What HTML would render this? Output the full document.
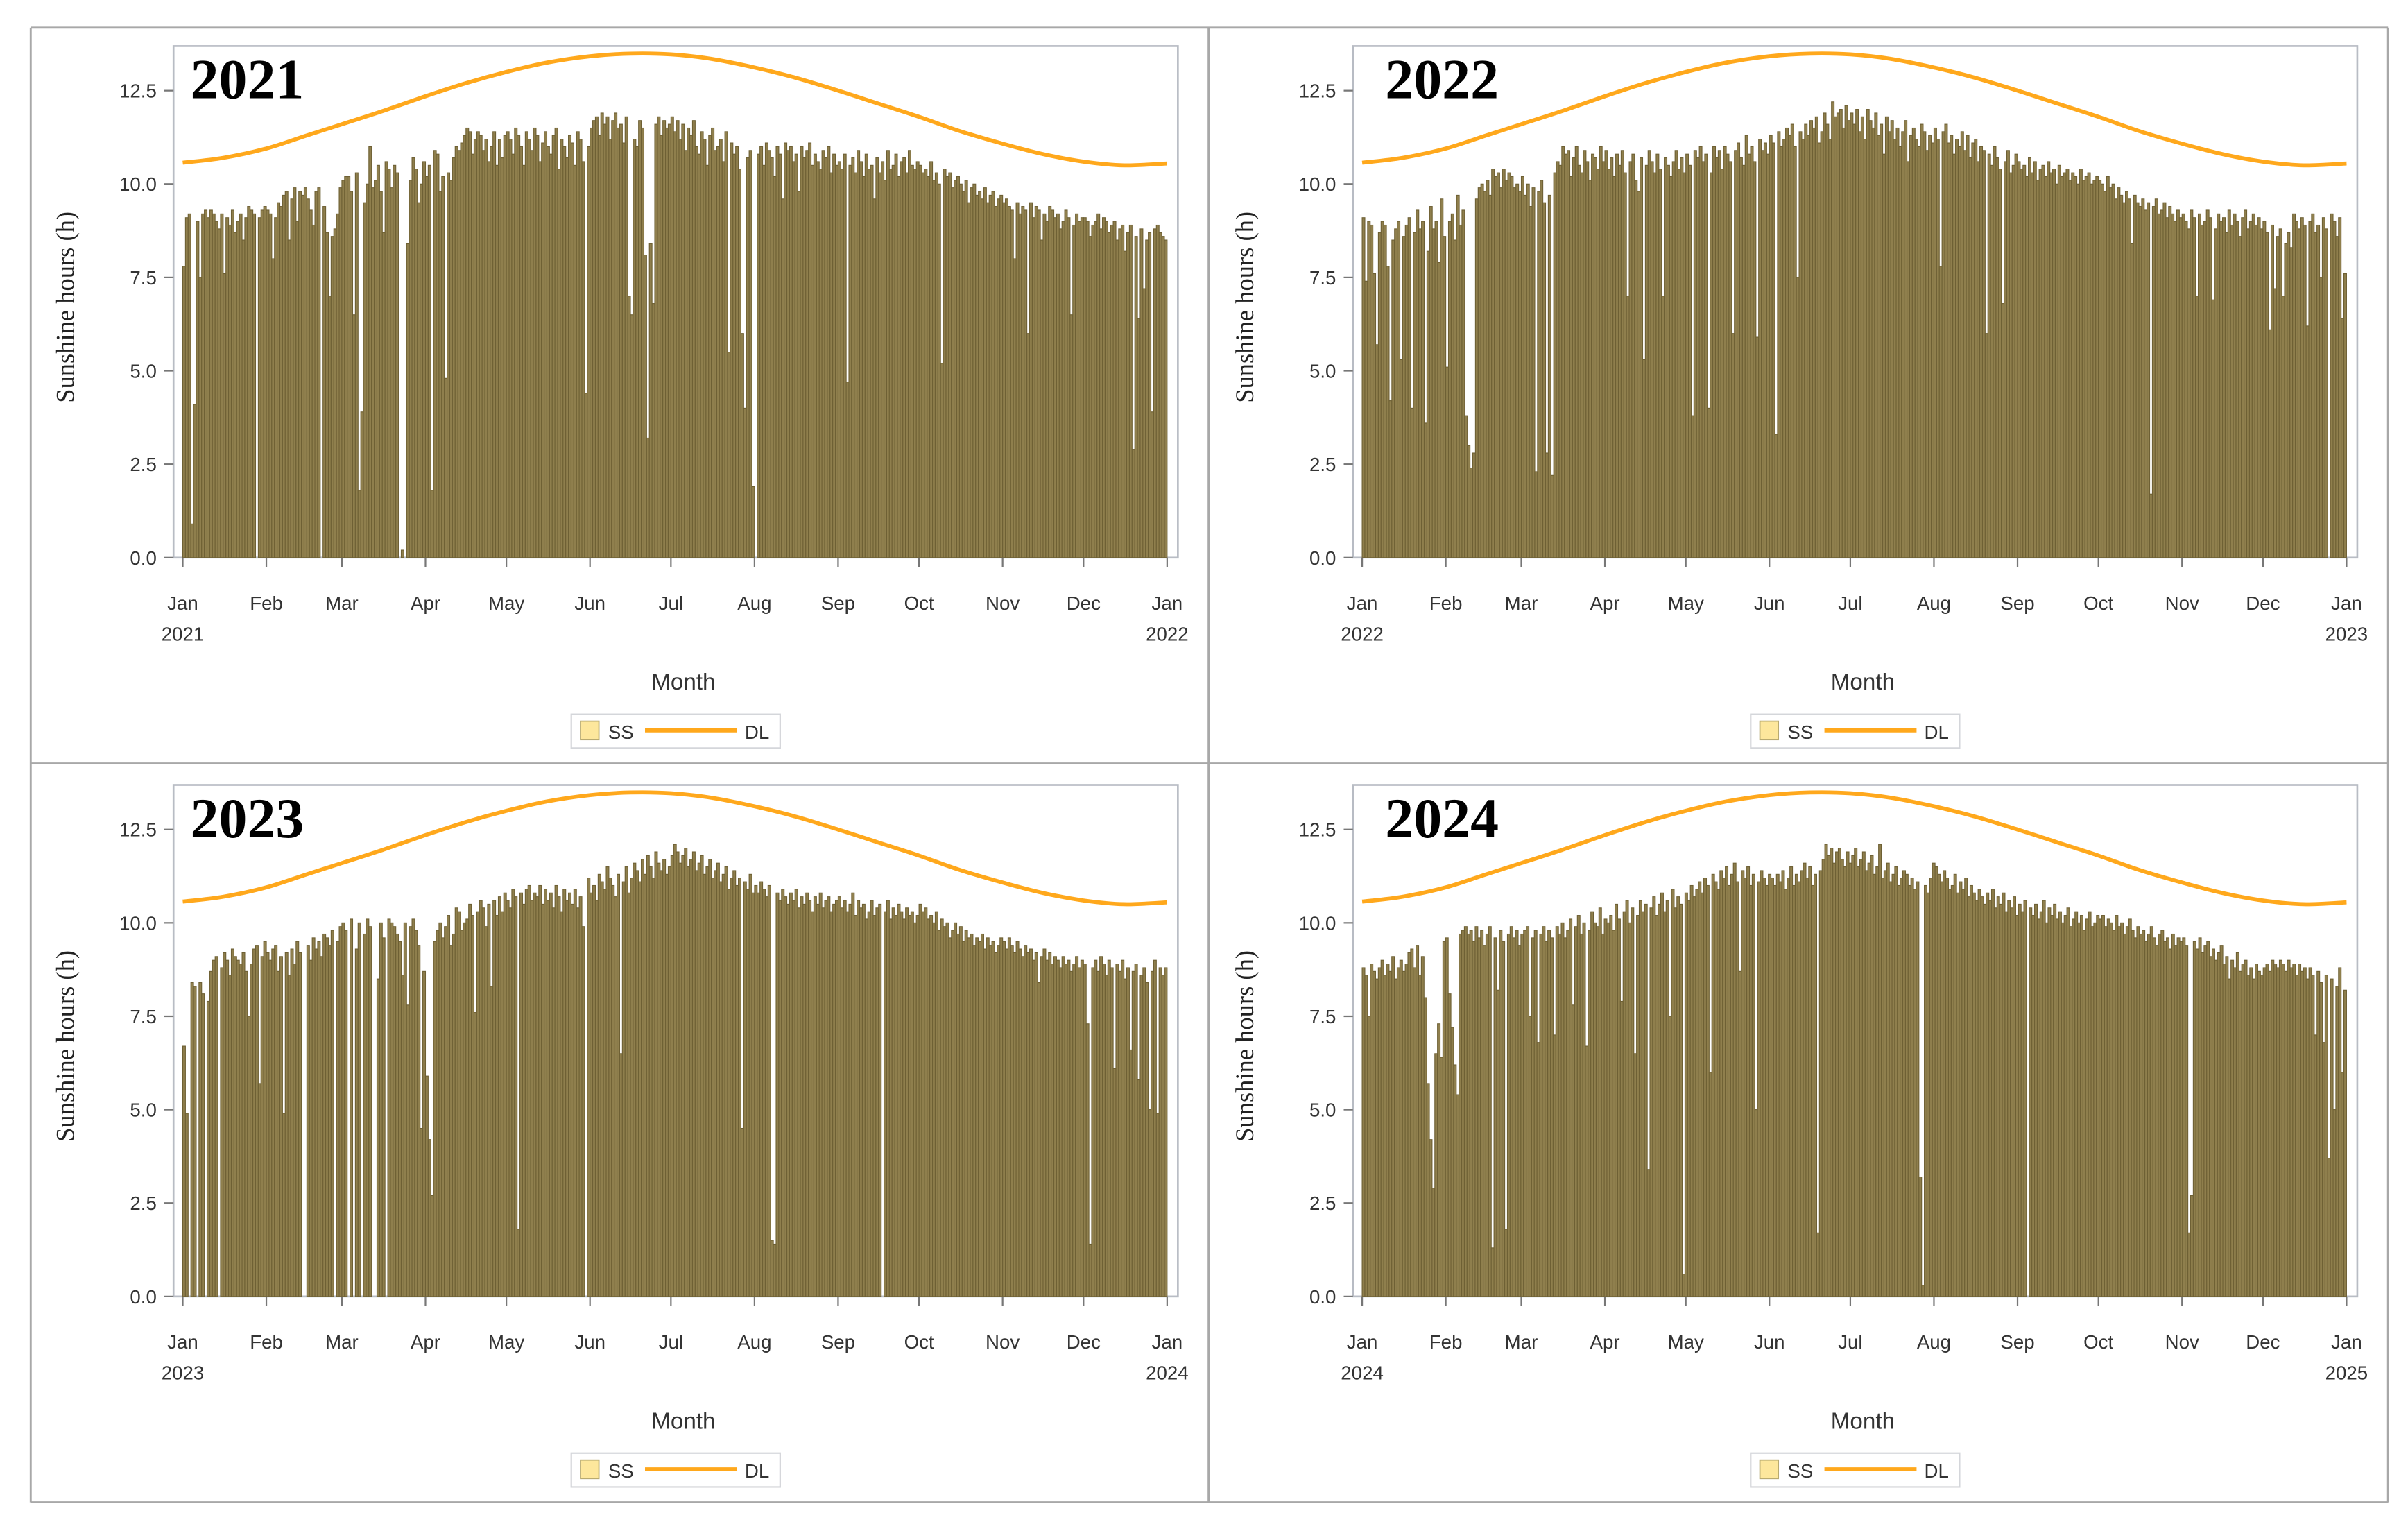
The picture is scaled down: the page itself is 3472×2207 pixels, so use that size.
<!DOCTYPE html>
<html><head><meta charset="utf-8"><style>
html,body{margin:0;padding:0;background:#fff;}
svg{display:block;}
text{font-family:"Liberation Sans",sans-serif;}
</style></head><body>
<svg id="chart" width="3472" height="2207" viewBox="0 0 1568 996.7" preserveAspectRatio="none" xmlns="http://www.w3.org/2000/svg"></svg>
<script>
const years = [2021, 2022, 2023, 2024];
const monthLabels = ["Jan","Feb","Mar","Apr","May","Jun","Jul","Aug","Sep","Oct","Nov","Dec","Jan"];
const yTicks = [0, 2.5, 5, 7.5, 10, 12.5];
const yTickLabels = ["0.0","2.5","5.0","7.5","10.0","12.5"];
const dlDays = [0,15,31,46,59,74,90,105,120,135,151,166,181,196,212,227,243,258,273,288,304,319,334,349,365];
const dlHours = [10.57,10.7,10.95,11.3,11.6,11.95,12.35,12.7,13.0,13.25,13.42,13.49,13.47,13.35,13.12,12.85,12.5,12.15,11.8,11.42,11.08,10.8,10.6,10.5,10.55];
const ss2021 = "7.8 9.1 9.2 0.9 4.1 9.0 7.5 9.2 9.3 9.1 9.3 9.2 9.0 8.8 9.2 7.6 9.1 8.9 9.3 8.7 9.0 9.2 8.5 9.1 9.4 9.3 9.2 0.0 9.1 9.3 9.4 9.3 9.2 8.0 9.1 9.5 9.4 9.7 9.8 8.5 9.6 9.9 9.0 9.8 9.7 9.9 9.6 9.3 8.9 9.8 9.9 0.0 9.4 8.7 7.0 8.6 8.8 9.2 9.9 10.1 10.2 10.2 9.8 6.5 10.3 1.8 3.9 9.5 10.0 11.0 9.9 10.1 10.5 9.8 8.7 10.6 10.4 9.9 10.5 10.3 0.0 0.2 0.0 8.4 10.1 10.7 10.4 9.5 10.0 10.6 10.2 10.5 1.8 10.9 10.8 9.8 10.2 4.8 10.3 10.1 10.7 11.0 10.9 11.1 11.3 11.5 11.4 10.8 11.2 11.4 11.3 10.9 11.2 10.6 11.0 11.4 10.5 11.2 10.7 11.3 11.4 11.2 10.8 11.5 11.3 11.0 10.5 11.4 11.2 10.9 11.5 11.3 10.6 11.1 11.4 11.0 10.8 11.3 11.5 10.4 11.2 11.0 10.7 11.3 11.1 10.5 11.4 11.2 10.6 4.4 11.0 11.5 11.7 11.8 11.3 11.9 11.6 11.8 11.2 11.7 11.9 11.5 11.6 11.1 11.8 7.0 6.5 11.2 11.0 11.7 11.5 8.1 3.2 8.4 6.8 11.6 11.8 11.3 11.7 11.5 11.6 11.8 11.4 11.7 11.2 11.6 10.9 11.5 11.3 11.7 11.0 10.8 11.4 11.2 10.5 11.3 11.5 10.9 11.0 11.2 10.6 11.4 5.5 11.1 10.8 11.0 10.4 6.0 4.0 10.7 10.9 1.9 0.0 10.8 11.0 10.5 11.1 10.9 10.7 10.2 11.0 10.8 9.6 11.1 10.9 11.0 10.6 10.8 9.8 11.0 10.7 10.9 11.1 10.5 10.8 10.6 10.4 10.9 10.7 11.0 10.3 10.8 10.5 10.6 10.4 10.8 4.7 10.5 10.7 10.3 10.9 10.6 10.2 10.8 10.4 10.5 9.6 10.7 10.3 10.6 10.1 10.9 10.4 10.5 10.8 10.2 10.6 10.7 10.3 10.9 10.5 10.4 10.6 10.5 10.3 10.4 10.2 10.6 10.1 10.3 10.0 5.2 10.4 10.2 10.3 9.9 10.1 10.2 10.0 9.8 10.1 9.5 9.9 10.0 9.7 9.8 9.6 9.9 9.5 9.7 9.8 9.4 9.6 9.7 9.5 9.6 9.4 9.3 8.0 9.5 9.2 9.4 9.3 6.0 9.5 9.1 9.4 9.3 8.5 9.2 9.0 9.4 9.3 9.1 9.2 8.8 9.0 9.3 9.1 6.5 8.9 9.2 9.0 9.1 9.1 9.0 8.6 8.9 9.0 9.2 8.8 9.1 9.0 8.7 8.9 9.0 8.5 8.8 8.9 8.2 8.7 8.9 2.9 8.6 6.4 8.8 7.2 8.5 8.7 3.9 8.8 8.9 8.7 8.6 8.5".split(" ").map(Number);
const ss2022 = "9.1 7.4 9.0 8.9 7.6 5.7 8.7 9.0 8.9 7.8 4.2 8.5 8.8 9.0 5.3 8.6 8.9 9.1 4.0 8.7 9.3 8.8 9.0 3.6 8.2 9.4 8.8 9.0 7.9 9.6 8.6 5.1 9.0 9.2 8.5 9.7 8.9 9.3 3.8 3.0 2.4 2.8 9.6 9.9 10.0 9.8 10.1 9.7 10.4 10.2 10.3 9.9 10.4 10.1 10.3 10.2 9.9 10.0 9.8 10.2 9.7 10.0 9.4 9.9 2.3 9.8 10.1 9.5 2.8 9.7 2.2 10.3 10.6 10.5 11.0 10.8 10.9 10.2 10.7 11.0 10.5 10.3 10.9 10.6 10.1 10.8 10.7 10.4 11.0 10.6 10.9 10.4 10.7 10.2 10.8 10.5 10.9 10.3 7.0 10.6 10.8 10.1 9.8 10.7 5.3 10.5 10.9 10.6 10.3 10.8 10.4 7.0 10.7 10.5 10.2 10.6 10.9 10.4 10.7 10.3 10.8 10.5 3.8 10.9 10.7 11.0 10.6 10.8 4.0 10.3 11.0 10.7 10.9 10.4 11.0 10.8 10.6 6.0 10.9 11.1 10.7 10.5 11.3 10.8 11.0 10.6 5.9 11.2 10.9 11.1 10.8 11.3 11.1 3.3 11.4 11.0 11.2 11.5 11.3 11.6 11.0 7.5 11.4 11.2 11.6 11.3 11.7 11.5 11.8 11.1 11.4 11.9 11.6 11.2 12.2 11.8 11.9 12.0 11.5 12.1 11.7 11.9 11.6 12.0 11.4 11.8 11.2 12.0 11.7 11.5 11.9 11.3 11.6 10.8 11.8 11.4 11.7 11.2 11.5 11.0 11.4 11.7 10.6 11.3 11.5 11.2 11.0 11.6 11.4 10.9 11.3 11.1 11.5 11.2 7.8 11.4 11.6 11.1 11.3 10.8 11.2 11.0 11.4 10.9 11.3 10.7 11.1 11.2 10.6 11.0 10.9 6.0 10.8 10.5 11.0 10.7 10.4 6.8 10.6 10.9 10.3 10.5 10.8 10.6 10.4 10.5 10.2 10.7 10.3 10.6 10.1 10.4 10.5 10.2 10.6 10.3 10.4 10.0 10.5 10.2 10.3 10.4 10.1 10.3 10.2 10.0 10.4 10.1 10.2 10.3 10.0 10.1 10.2 10.1 10.0 9.8 10.2 9.9 10.0 9.6 9.9 9.7 9.5 9.8 9.6 8.4 9.7 9.5 9.4 9.6 9.3 9.5 1.7 9.4 9.6 9.2 9.3 9.5 9.1 9.4 9.2 9.0 9.3 9.1 9.2 9.0 8.8 9.3 9.1 7.0 9.2 8.9 9.0 9.3 9.1 6.9 8.8 9.2 9.0 9.1 8.7 9.3 8.9 9.2 9.0 8.6 9.1 9.3 8.8 9.0 9.2 8.9 9.1 8.8 9.0 8.7 6.1 8.9 7.2 8.6 8.8 7.0 8.4 8.7 8.3 9.2 9.0 8.8 9.1 8.9 6.2 9.0 9.2 8.7 8.9 7.5 9.1 8.8 0.0 9.2 9.0 8.6 9.1 6.4 7.6".split(" ").map(Number);
const ss2023 = "6.7 4.9 0.0 8.4 8.3 0.0 8.4 8.1 0.0 7.9 8.7 9.0 9.1 0.0 8.8 9.2 9.0 8.6 9.3 9.1 9.0 8.9 9.2 8.7 7.5 8.9 9.3 9.4 5.7 9.1 9.5 9.2 9.0 9.3 9.4 8.7 9.1 4.9 9.2 8.6 9.3 8.9 9.5 9.2 0.0 0.0 9.4 9.0 9.6 9.3 9.5 9.1 9.7 9.6 9.4 9.8 0.0 9.5 9.9 10.0 9.8 0.0 10.1 0.0 9.3 10.0 0.0 9.7 10.1 9.9 0.0 0.0 8.5 10.0 9.6 0.0 10.1 10.0 9.9 9.7 9.5 8.6 10.0 7.8 9.9 10.1 9.8 9.4 4.5 8.7 5.9 4.2 2.7 9.5 9.8 10.0 9.6 9.9 10.2 9.4 9.7 10.4 10.3 9.8 10.0 10.1 10.5 10.2 7.6 10.3 10.6 10.4 9.9 10.5 8.3 10.6 10.2 10.7 10.3 10.8 10.6 10.4 10.9 10.7 1.8 10.8 10.5 10.9 11.0 10.6 10.8 10.7 11.0 10.5 10.9 10.6 10.8 10.4 11.0 10.7 10.3 10.9 10.6 10.8 10.5 10.9 10.4 10.7 9.9 0.0 11.2 10.8 11.0 10.6 11.3 11.1 10.9 11.5 11.2 11.0 10.7 11.3 6.5 11.1 11.5 10.8 11.2 11.6 11.4 11.1 11.7 11.3 11.8 11.5 11.2 11.9 11.6 11.4 11.7 11.3 11.5 11.8 12.1 11.9 11.6 11.8 12.0 11.5 11.7 11.9 11.4 11.6 11.8 11.3 11.5 11.7 11.2 11.4 11.6 11.1 11.3 11.5 10.9 11.2 11.4 11.0 11.2 4.5 11.1 10.9 11.3 10.8 11.0 10.8 11.1 10.9 10.7 11.0 1.5 1.4 10.8 10.6 10.9 10.7 10.5 10.8 10.6 10.9 10.4 10.7 10.5 10.8 10.6 10.3 10.7 10.5 10.8 10.4 10.6 10.7 10.3 10.5 10.6 10.7 10.4 10.6 10.3 10.5 10.8 10.2 10.6 10.4 10.5 10.1 10.3 10.6 10.2 10.4 10.5 0.0 10.3 10.6 10.1 10.4 10.2 10.5 10.3 10.1 10.4 10.2 10.3 10.0 10.2 10.5 10.3 10.4 10.1 10.2 10.0 10.3 9.8 10.1 9.9 10.0 9.6 9.8 10.0 9.7 9.9 9.5 9.8 9.6 9.7 9.4 9.6 9.5 9.7 9.3 9.6 9.4 9.5 9.2 9.4 9.6 9.5 9.3 9.6 9.4 9.2 9.5 9.3 9.1 9.4 9.2 9.3 9.0 9.2 8.4 9.1 9.3 9.0 9.2 8.9 9.1 9.0 8.8 9.1 8.9 9.0 8.7 8.9 9.1 8.8 9.0 8.9 7.3 1.4 8.8 9.0 8.7 9.1 8.9 8.6 9.0 8.8 6.1 8.9 8.7 9.0 8.5 8.8 6.6 8.7 8.9 5.8 8.6 8.8 8.4 5.0 8.7 9.0 4.9 8.8 8.6 8.8".split(" ").map(Number);
const ss2024 = "8.8 8.6 7.5 8.9 8.7 8.5 8.8 9.0 8.6 8.9 8.7 9.1 8.5 8.8 9.0 8.7 8.9 9.2 9.3 8.8 9.4 8.6 9.1 8.0 5.7 4.2 2.9 6.5 7.3 6.4 9.5 9.6 8.1 7.2 6.2 5.4 9.7 9.8 9.9 9.7 9.8 9.5 9.9 9.6 9.8 9.4 9.7 9.9 1.3 9.6 8.2 9.8 9.5 1.8 9.7 9.9 9.6 9.8 9.4 9.7 9.8 9.9 7.5 9.6 9.8 6.8 9.7 9.9 9.5 9.8 9.6 7.0 9.9 9.7 10.0 9.6 9.8 10.1 7.8 9.9 10.2 9.7 10.0 6.7 9.8 10.3 10.0 9.9 10.4 9.7 10.1 10.0 10.2 9.8 10.5 10.1 7.9 10.3 10.6 10.0 10.4 6.5 10.2 10.6 10.3 10.5 3.4 10.4 10.7 10.2 10.5 10.8 10.3 10.6 7.5 10.9 10.4 10.7 10.5 0.6 10.8 10.6 11.0 10.7 10.9 11.1 10.8 11.2 11.0 6.0 11.3 11.1 10.9 11.4 11.2 11.5 11.0 11.3 11.6 11.1 8.7 11.4 11.2 11.5 11.0 11.3 5.0 11.1 11.4 11.2 11.0 11.3 11.2 11.0 11.3 11.1 11.4 10.9 11.2 11.5 11.0 11.3 11.1 11.4 11.6 11.2 11.5 11.0 11.3 1.7 11.4 11.7 12.1 11.8 12.0 11.6 11.9 12.0 11.7 11.5 11.9 11.6 11.8 12.0 11.5 11.7 11.9 11.4 11.6 11.8 11.3 11.5 12.1 11.2 11.4 11.6 11.1 11.3 11.5 11.0 11.2 11.4 11.3 11.0 11.2 10.9 11.1 3.2 0.3 11.0 10.8 11.2 11.6 11.5 11.3 11.1 11.4 11.2 10.9 11.0 11.3 10.8 11.1 10.9 11.2 10.7 11.0 10.8 10.6 10.9 10.7 10.5 10.8 10.6 10.9 10.4 10.7 10.5 10.8 10.3 10.6 10.4 10.7 10.2 10.5 10.3 10.6 0.0 10.4 10.2 10.5 10.1 10.3 10.6 10.0 10.4 10.2 10.5 10.1 10.3 10.0 10.2 10.4 9.9 10.1 10.3 10.0 10.2 9.8 10.1 10.3 9.9 10.0 10.2 10.1 10.2 9.9 10.1 10.0 9.8 10.2 9.9 10.0 9.7 9.9 10.1 9.8 9.6 9.9 9.7 9.8 9.5 9.7 9.9 9.6 9.4 9.7 9.8 9.5 9.6 9.3 9.7 9.4 9.6 9.5 9.6 9.4 1.7 2.7 9.5 9.3 9.6 9.2 9.4 9.5 9.1 9.3 9.0 9.2 9.4 8.9 9.1 8.5 9.0 8.8 9.2 8.7 8.9 9.0 8.6 8.8 8.5 8.9 8.7 8.6 8.8 8.9 8.7 9.0 8.9 8.8 9.0 8.9 8.7 9.0 8.8 8.9 8.6 8.9 8.7 8.8 8.5 8.8 8.6 7.0 8.7 8.4 6.8 8.6 3.7 8.5 5.0 8.3 8.8 6.0 8.2".split(" ").map(Number);
const ssSeries = [ss2021, ss2022, ss2023, ss2024];
const monthStartDays = [0,31,59,90,120,151,181,212,243,273,304,334,365];

const NS = "http://www.w3.org/2000/svg";
const svg = document.getElementById("chart");
function mk(tag, attrs, parent) {
  const e = document.createElementNS(NS, tag);
  for (const k in attrs) e.setAttribute(k, attrs[k]);
  (parent || svg).appendChild(e);
  return e;
}
const border = mk("g", {});


[[20,18,1555,18],[20,497,1555,497],[20,978,1555,978],[20,18,20,978],[787,18,787,978],[1555,18,1555,978]].forEach(l => {
  mk("line", {x1:l[0], y1:l[1], x2:l[2], y2:l[3], stroke:"#a8a8a8", "stroke-width":1.3}, border);
});

const offs = [[0,0],[768,0],[0,481],[768,481]];
years.forEach((yr, p) => {
  const dx = offs[p][0], dy = offs[p][1];
  const g = mk("g", {transform:`translate(${dx},${dy})`});
  
  
  const x0 = 119, x1 = 760, yBase = 363, yPer = 24.32;
  const nDays = ssSeries[p].length;
  const xScale = d => x0 + d / 365 * (x1 - x0);
  const xDay = d => x0 + d / nDays * (x1 - x0);
  const yScale = v => yBase - v * yPer;
  const frame = mk("rect", {x:113, y:30, width:654, height:333, fill:"#fff", stroke:"#b8bcc4", "stroke-width":1.2}, g);
  
  
  const bars = mk("g", {}, g);
  
  
  const bw = (x1 - x0) / nDays;
  ssSeries[p].forEach((v, i) => {
    if (!(v > 0)) return;
    const r = mk("rect", {x:xDay(i), y:yScale(v), width:bw, height:v*yPer, fill:"#8f7f4d", stroke:"#6e6034", "stroke-width":0.5}, bars);
    
    
  });
  const pts = dlDays.map((d, i) => [xScale(d), yScale(dlHours[i])]);
  let dstr = `M${pts[0][0]},${pts[0][1]}`;
  for (let i = 0; i < pts.length - 1; i++) {
    const p0 = pts[Math.max(0,i-1)], p1 = pts[i], p2 = pts[i+1], p3 = pts[Math.min(pts.length-1,i+2)];
    const c1 = [p1[0]+(p2[0]-p0[0])/6, p1[1]+(p2[1]-p0[1])/6];
    const c2 = [p2[0]-(p3[0]-p1[0])/6, p2[1]-(p3[1]-p1[1])/6];
    dstr += ` C${c1[0]},${c1[1]} ${c2[0]},${c2[1]} ${p2[0]},${p2[1]}`;
  }
  const dl = mk("path", {d:dstr, fill:"none", stroke:"#ffa81c", "stroke-width":2.6}, g);
  
  
  yTicks.forEach((t, i) => {
    const y = yScale(t);
    mk("line", {x1:107, y1:y, x2:113, y2:y, stroke:"#777", "stroke-width":1}, g);
    const tx = mk("text", {x:102, y:y+4.5, "text-anchor":"end", "font-size":12.5, fill:"#333"}, g);
    tx.textContent = yTickLabels[i];
    
    
  });
  const yt = mk("text", {x:0, y:0, transform:"translate(48,200) rotate(-90)", "text-anchor":"middle", "font-size":16.5, fill:"#222", style:'font-family:"Liberation Serif",serif'}, g);
  yt.textContent = "Sunshine hours (h)";
  
  
  monthStartDays.forEach((d, i) => {
    const x = xScale(d);
    mk("line", {x1:x, y1:363, x2:x, y2:369, stroke:"#777", "stroke-width":1}, g);
    const tx = mk("text", {x:x, y:397, "text-anchor":"middle", "font-size":12.5, fill:"#333"}, g);
    tx.textContent = monthLabels[i];
    
    
  });
  [[0, yr], [365, yr+1]].forEach(a => {
    const tx = mk("text", {x:xScale(a[0]), y:417, "text-anchor":"middle", "font-size":12.5, fill:"#333"}, g);
    tx.textContent = String(a[1]);
    
    
  });
  const xt = mk("text", {x:445, y:449, "text-anchor":"middle", "font-size":15, fill:"#333"}, g);
  xt.textContent = "Month";
  
  
  const lg = mk("g", {}, g);
  
  
  mk("rect", {x:372, y:465, width:136, height:22, fill:"#fff", stroke:"#d4d6da", "stroke-width":1}, lg);
  const sw = mk("rect", {x:378, y:469.5, width:12, height:12, fill:"#fde79c", stroke:"#b8aa70", "stroke-width":0.8}, lg);
  
  
  const t1 = mk("text", {x:396, y:481, "font-size":12.5, fill:"#333"}, lg);
  t1.textContent = "SS";
  
  
  const ll = mk("line", {x1:420, y1:475.5, x2:480, y2:475.5, stroke:"#ffa81c", "stroke-width":2.6}, lg);
  
  
  const t2 = mk("text", {x:485, y:481, "font-size":12.5, fill:"#333"}, lg);
  t2.textContent = "DL";
  
  
  const tt = mk("text", {x:(p % 2 ? 134 : 124), y:64, "font-size":37, "font-weight":"bold", fill:"#000", style:'font-family:"Liberation Serif",serif'}, g);
  tt.textContent = String(yr);
  
  
});
</script>
</body></html>
